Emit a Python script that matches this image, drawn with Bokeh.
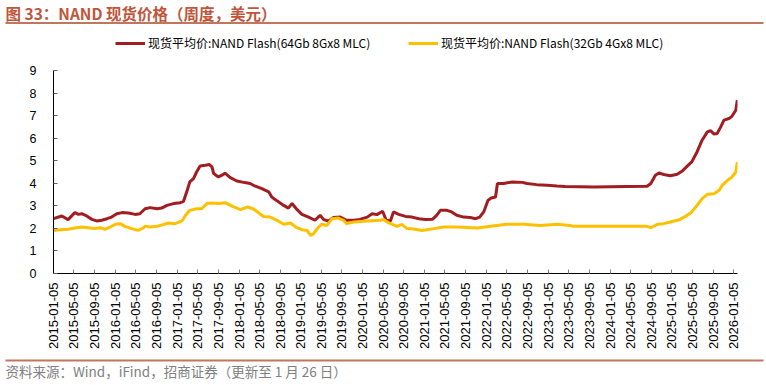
import math
import pandas as pd
from bokeh.plotting import figure
from bokeh.layouts import column
from bokeh.models import (Range1d, FixedTicker, DatetimeTickFormatter, Legend,
                          LegendItem, Label, BoxAnnotation, ColumnDataSource)
from bokeh.embed import file_html
from bokeh.resources import INLINE

title_text = "图 33：NAND 现货价格（周度，美元）"
source_text = "资料来源：Wind，iFind，招商证券（更新至 1 月 26 日）"
name_64 = "现货平均价:NAND Flash(64Gb 8Gx8 MLC)"
name_32 = "现货平均价:NAND Flash(32Gb 4Gx8 MLC)"

tick_labels = [
    "2015-01-05", "2015-05-05", "2015-09-05", "2016-01-05", "2016-05-05", "2016-09-05",
    "2017-01-05", "2017-05-05", "2017-09-05", "2018-01-05", "2018-05-05", "2018-09-05",
    "2019-01-05", "2019-05-05", "2019-09-05", "2020-01-05", "2020-05-05", "2020-09-05",
    "2021-01-05", "2021-05-05", "2021-09-05", "2022-01-05", "2022-05-05", "2022-09-05",
    "2023-01-05", "2023-05-05", "2023-09-05", "2024-01-05", "2024-05-05", "2024-09-05",
    "2025-01-05", "2025-05-05", "2025-09-05", "2026-01-05",
]
y_ticks = [0, 1, 2, 3, 4, 5, 6, 7, 8, 9]

dates_64 = [
    "2015-01-05", "2015-02-23", "2015-04-01", "2015-05-11", "2015-06-02", "2015-06-20",
    "2015-07-20", "2015-08-20", "2015-09-17", "2015-10-17", "2015-11-17", "2015-12-14",
    "2016-01-14", "2016-02-14", "2016-03-23", "2016-05-01", "2016-05-29", "2016-06-29",
    "2016-07-29", "2016-09-08", "2016-10-05", "2016-11-05", "2016-12-14", "2017-01-23",
    "2017-02-11", "2017-02-23", "2017-03-05", "2017-03-20", "2017-04-11", "2017-04-29",
    "2017-05-20", "2017-06-20", "2017-07-14", "2017-07-29", "2017-08-08", "2017-09-05",
    "2017-09-26", "2017-10-14", "2017-11-14", "2017-12-23", "2018-02-08", "2018-03-11",
    "2018-04-11", "2018-05-20", "2018-06-29", "2018-07-17", "2018-08-17", "2018-09-26",
    "2018-10-23", "2018-11-14", "2018-12-14", "2019-01-11", "2019-02-20", "2019-03-29",
    "2019-04-29", "2019-05-20", "2019-06-17", "2019-07-17", "2019-08-26", "2019-10-02",
    "2019-11-14", "2019-12-20", "2020-02-01", "2020-03-01", "2020-03-29", "2020-05-02",
    "2020-05-23", "2020-06-17", "2020-07-05", "2020-08-05", "2020-09-14", "2020-10-23",
    "2020-12-02", "2021-01-11", "2021-02-20", "2021-03-17", "2021-04-08", "2021-05-17",
    "2021-06-14", "2021-07-14", "2021-08-23", "2021-10-02", "2021-11-02", "2021-11-26",
    "2021-12-20", "2022-01-14", "2022-02-02", "2022-02-28", "2022-03-11", "2022-04-17",
    "2022-06-05", "2022-08-05", "2022-09-02", "2022-10-29", "2022-12-29", "2023-02-26",
    "2023-04-14", "2023-10-02", "2024-04-14", "2024-08-11", "2024-09-02", "2024-09-29",
    "2024-10-20", "2024-11-17", "2024-12-26", "2025-02-05", "2025-03-05", "2025-04-05",
    "2025-05-02", "2025-06-02", "2025-07-02", "2025-08-02", "2025-08-20", "2025-09-11",
    "2025-09-29", "2025-10-20", "2025-11-08", "2025-12-08", "2025-12-26", "2026-01-17",
    "2026-01-26",
]
price_64 = [
    2.43, 2.55, 2.39, 2.70, 2.62, 2.65,
    2.55, 2.40, 2.33, 2.36, 2.43, 2.50,
    2.65, 2.70, 2.68, 2.62, 2.65, 2.87,
    2.92, 2.87, 2.90, 3.02, 3.10, 3.14,
    3.20, 3.47, 3.69, 4.06, 4.21, 4.50,
    4.77, 4.80, 4.83, 4.73, 4.43, 4.28,
    4.36, 4.45, 4.25, 4.10, 4.03, 3.99,
    3.87, 3.76, 3.62, 3.39, 3.22, 3.02,
    2.90, 3.10, 2.83, 2.62, 2.50, 2.36,
    2.58, 2.39, 2.33, 2.48, 2.50, 2.36,
    2.36, 2.40, 2.50, 2.65, 2.61, 2.76,
    2.36, 2.33, 2.73, 2.62, 2.53, 2.50,
    2.43, 2.39, 2.40, 2.58, 2.80, 2.80,
    2.73, 2.58, 2.50, 2.48, 2.43, 2.50,
    2.73, 3.24, 3.35, 3.39, 3.99, 3.99,
    4.06, 4.04, 3.99, 3.94, 3.91, 3.88,
    3.86, 3.84, 3.86, 3.87, 3.99, 4.36,
    4.46, 4.39, 4.33, 4.40, 4.53, 4.76,
    4.95, 5.39, 5.91, 6.28, 6.33, 6.18,
    6.21, 6.50, 6.80, 6.87, 6.98, 7.24,
    7.69,
]

dates_32 = [
    "2015-01-05", "2015-02-14", "2015-04-01", "2015-05-11", "2015-06-20", "2015-07-29",
    "2015-09-08", "2015-10-08", "2015-11-05", "2015-12-05", "2016-01-05", "2016-02-03",
    "2016-03-02", "2016-04-11", "2016-05-20", "2016-06-20", "2016-06-29", "2016-07-29",
    "2016-09-08", "2016-10-17", "2016-11-14", "2016-12-23", "2017-02-02", "2017-02-23",
    "2017-03-20", "2017-04-29", "2017-05-29", "2017-06-29", "2017-07-29", "2017-09-05",
    "2017-10-14", "2017-12-05", "2018-01-14", "2018-02-23", "2018-03-29", "2018-05-08",
    "2018-05-29", "2018-07-08", "2018-08-17", "2018-09-26", "2018-11-05", "2018-12-05",
    "2019-01-11", "2019-02-11", "2019-03-02", "2019-03-20", "2019-04-20", "2019-05-08",
    "2019-06-08", "2019-07-08", "2019-08-14", "2019-09-14", "2019-10-02", "2019-11-14",
    "2020-02-01", "2020-04-17", "2020-05-08", "2020-06-08", "2020-07-26", "2020-08-23",
    "2020-09-23", "2020-11-02", "2020-12-20", "2021-03-01", "2021-04-26", "2021-07-14",
    "2021-11-11", "2022-01-29", "2022-05-05", "2022-08-14", "2022-11-20", "2023-02-26",
    "2023-05-14", "2023-06-05", "2023-10-02", "2024-04-14", "2024-08-11", "2024-09-02",
    "2024-10-11", "2024-11-17", "2024-12-26", "2025-02-17", "2025-03-26", "2025-05-02",
    "2025-06-02", "2025-07-02", "2025-08-02", "2025-09-11", "2025-10-11", "2025-10-29",
    "2025-11-29", "2025-12-26", "2026-01-17", "2026-01-26",
]
price_32 = [
    1.91, 1.94, 1.96, 2.02, 2.06, 2.03,
    1.99, 2.03, 1.96, 2.06, 2.18, 2.21,
    2.09, 1.99, 1.91, 2.03, 2.10, 2.06,
    2.09, 2.18, 2.24, 2.21, 2.33, 2.58,
    2.80, 2.87, 2.87, 3.10, 3.13, 3.10,
    3.14, 2.95, 2.83, 2.95, 2.87, 2.65,
    2.53, 2.50, 2.36, 2.18, 2.24, 2.06,
    1.94, 1.91, 1.69, 1.76, 2.06, 2.18,
    2.13, 2.43, 2.46, 2.36, 2.21, 2.28,
    2.33, 2.36, 2.39, 2.24, 2.09, 2.18,
    1.99, 1.97, 1.91, 1.99, 2.06, 2.06,
    2.02, 2.09, 2.18, 2.18, 2.13, 2.18,
    2.13, 2.09, 2.09, 2.09, 2.09, 2.03,
    2.18, 2.21, 2.28, 2.38, 2.53, 2.73,
    3.02, 3.32, 3.51, 3.54, 3.69, 3.91,
    4.13, 4.28, 4.50, 4.95,
]

RED = "#A11D21"
GOLD = "#FFC000"
RUST = "#C0553A"
RULE = "#C0775E"
CJK = "Noto Sans CJK SC"
W = 766
H_HEAD, H_MAIN, H_FOOT = 58, 294, 33


def blank(h):
    f = figure(width=W, height=h, output_backend="svg", toolbar_location=None,
               x_range=Range1d(0, W), y_range=Range1d(h, 0), min_border=0,
               x_axis_location=None, y_axis_location=None)
    f.grid.visible = False
    f.outline_line_color = None
    f.background_fill_color = "white"
    f.border_fill_color = "white"
    f.frame_align = False
    return f


# ---- header: title, rule, legend
head = blank(H_HEAD)
head.add_layout(Label(x=5, y=12, text=title_text, text_font=CJK,
                      text_font_style="bold", text_font_size="15.5px",
                      text_color=RUST, text_baseline="middle", text_align="left"))
head.add_layout(BoxAnnotation(left=5, right=763, top=21.5, bottom=23.5,
                              fill_color=RULE, fill_alpha=1, line_color=None))
lg64 = head.line(x=[-100, -90], y=[-100, -100], line_width=3, line_color=RED)
lg32 = head.line(x=[-100, -90], y=[-100, -100], line_width=3, line_color=GOLD)


def make_legend(label, rend, x):
    return Legend(items=[LegendItem(label=label, renderers=[rend])],
                  location=(x, 7), orientation="horizontal", padding=0, margin=0,
                  border_line_color=None, background_fill_alpha=0,
                  glyph_width=30, glyph_height=14, label_height=14,
                  label_standoff=3, spacing=0,
                  label_text_font=CJK, label_text_font_size="12px",
                  label_text_color="black")


head.add_layout(make_legend(name_64, lg64, 115))
head.add_layout(make_legend(name_32, lg32, 408))

# ---- main chart
src64 = ColumnDataSource(dict(d=pd.to_datetime(dates_64), v=price_64))
src32 = ColumnDataSource(dict(d=pd.to_datetime(dates_32), v=price_32))

p = figure(width=W, height=H_MAIN, output_backend="svg", toolbar_location=None,
           x_axis_type="datetime",
           x_range=Range1d(pd.Timestamp("2015-01-05"), pd.Timestamp("2026-01-27")),
           y_range=Range1d(0, 9),
           min_border_left=53, min_border_right=29, min_border_top=12,
           min_border_bottom=79)
p.frame_align = False
p.outline_line_color = None
p.xgrid.visible = False
p.ygrid.visible = False
p.background_fill_color = "white"
p.border_fill_color = "white"

p.line("d", "v", source=src64, line_width=3, line_color=RED)
p.line("d", "v", source=src32, line_width=3, line_color=GOLD)

xa = p.xaxis[0]
xa.ticker = FixedTicker(ticks=[pd.Timestamp(s).value // 10**6 for s in tick_labels])
fmt = "%Y-%m-%d"
xa.formatter = DatetimeTickFormatter(days=fmt, months=fmt, years=fmt, hours=fmt,
                                     minutes=fmt, seconds=fmt, milliseconds=fmt,
                                     microseconds=fmt, hourmin=fmt, minsec=fmt)
xa.major_label_orientation = math.pi / 2
xa.major_label_text_font = "Liberation Sans"
xa.major_label_text_font_size = "13px"
xa.major_label_text_color = "black"
xa.major_label_standoff = 9
xa.axis_line_color = "black"
xa.major_tick_line_color = "#808080"
xa.major_tick_in = 4
xa.major_tick_out = 0
xa.minor_tick_line_color = None

ya = p.yaxis[0]
ya.ticker = FixedTicker(ticks=y_ticks)
ya.major_label_text_font = "Liberation Sans"
ya.major_label_text_font_size = "12.5px"
ya.major_label_text_color = "black"
ya.major_label_standoff = 17
ya.axis_line_color = "black"
ya.major_tick_line_color = "#606060"
ya.major_tick_in = 4
ya.major_tick_out = 0
ya.minor_tick_line_color = None

# ---- footer: rule and source
foot = blank(H_FOOT)
foot.add_layout(BoxAnnotation(left=5, right=763, top=7, bottom=9,
                              fill_color=RULE, fill_alpha=1, line_color=None))
foot.add_layout(Label(x=5, y=18, text=source_text, text_font=CJK,
                      text_font_size="13.5px", text_color="#808080",
                      text_baseline="middle", text_align="left"))

layout = column(head, p, foot, spacing=0)
open("out.html", "w").write(file_html(layout, INLINE))
